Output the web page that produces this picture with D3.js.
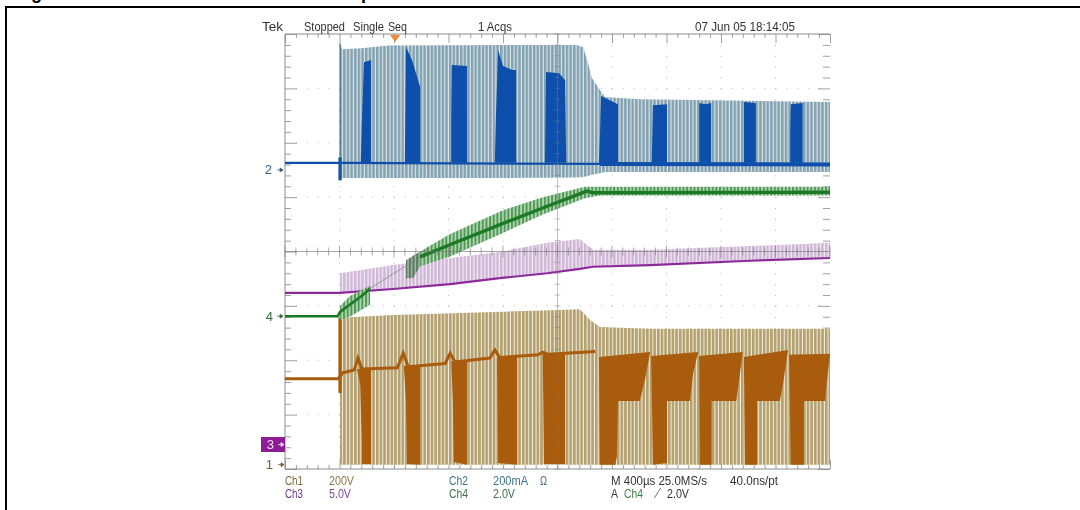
<!DOCTYPE html>
<html><head><meta charset="utf-8">
<script src="https://cdn.jsdelivr.net/npm/d3@7"></script>
<style>html,body{margin:0;padding:0;background:#fff;overflow:hidden}svg{display:block}text{font-family:"Liberation Sans Narrow","Liberation Sans",sans-serif;font-size:12.5px}</style>
</head><body>
<script>
// Values in oscilloscope divisions: time 0..10, level -4..4.
const ch2Times=[1.01,1.05,1.40,1.90,4.00,5.35,5.47,5.56,5.63,5.78,5.87,6.51,10];
const ch2High=[3.83,3.72,3.74,3.79,3.80,3.80,3.76,3.46,3.19,2.97,2.84,2.80,2.75];
const ch2Low=[1.35,1.35,1.35,1.35,1.35,1.36,1.37,1.39,1.41,1.44,1.46,1.46,1.46];
const ch2BaseTimes=[0,1.01,5.78,10];
const ch2BaseLevels=[1.63,1.63,1.61,1.60];
const ch2EdgeTimes=[1.01,1.01];
const ch2EdgeLevels=[3.83,1.31];
const ch2Blocks=[
[[0.98,1.73],[1.04,1.73],[1.04,1.31],[0.98,1.31]],
[[1.39,1.63],[1.41,2.36],[1.45,3.48],[1.58,3.52],[1.58,1.63]],
[[2.20,1.63],[2.22,3.76],[2.33,3.52],[2.48,3.02],[2.48,1.63]],
[[3.05,1.63],[3.05,2.47],[3.06,3.43],[3.34,3.41],[3.34,1.63]],
[[3.85,1.63],[3.87,2.47],[3.91,3.70],[4.00,3.41],[4.17,3.34],[4.24,3.34],[4.24,1.63]],
[[4.77,1.63],[4.79,3.30],[5.03,3.28],[5.14,3.15],[5.16,1.63]],
[[5.76,1.63],[5.78,2.16],[5.80,2.86],[5.96,2.78],[6.11,2.71],[6.11,1.63]],
[[6.73,1.63],[6.75,2.69],[7.01,2.71],[7.01,1.63]],
[[7.60,1.63],[7.60,2.73],[7.71,2.71],[7.82,2.73],[7.82,1.63]],
[[8.42,1.63],[8.42,2.75],[8.64,2.73],[8.64,1.63]],
[[9.27,1.63],[9.27,2.23],[9.28,2.71],[9.50,2.73],[9.50,1.63]]];
const ch1Times=[1.01,1.98,4.86,5.41,5.60,5.78,6.70,10];
const ch1High=[-1.22,-1.17,-1.08,-1.06,-1.26,-1.39,-1.42,-1.42];
const ch1Low=[-3.92,-3.92,-3.92,-3.92,-3.92,-3.92,-3.92,-3.92];
const ch1TraceTimes=[0,0.97,1.01,1.06,1.27,1.34,1.41,2.06,2.17,2.26,2.94,3.03,3.12,3.76,3.85,3.94,4.64,4.73,4.83,5.69];
const ch1TraceLevels=[-2.34,-2.34,-2.30,-2.23,-2.18,-1.96,-2.16,-2.14,-1.87,-2.12,-2.06,-1.87,-2.03,-1.96,-1.81,-1.95,-1.90,-1.85,-1.89,-1.84];
const ch1Blocks=[
[[0.98,-1.22],[1.04,-1.22],[1.04,-2.60],[0.98,-2.60]],
[[1.32,-2.16],[1.58,-2.16],[1.58,-3.91],[1.41,-3.91],[1.41,-3.47],[1.38,-2.45]],
[[2.18,-2.10],[2.48,-2.10],[2.48,-3.92],[2.24,-3.91],[2.22,-2.73]],
[[3.05,-2.02],[3.34,-2.00],[3.34,-3.92],[3.10,-3.87],[3.08,-2.73]],
[[3.89,-1.95],[4.26,-1.92],[4.26,-3.92],[3.91,-3.89]],
[[4.73,-1.88],[5.14,-1.88],[5.14,-3.91],[4.75,-3.91]],
[[5.76,-1.94],[6.70,-1.85],[6.61,-2.33],[6.51,-2.75],[6.11,-2.75],[6.09,-3.78],[6.06,-3.92],[5.78,-3.92]],
[[6.72,-1.92],[7.58,-1.85],[7.49,-2.23],[7.43,-2.75],[7.01,-2.75],[7.01,-3.89],[6.75,-3.92]],
[[7.60,-1.92],[8.40,-1.85],[8.35,-2.23],[8.28,-2.75],[7.83,-2.75],[7.83,-3.92],[7.61,-3.92]],
[[8.42,-1.94],[9.23,-1.81],[9.14,-2.42],[9.08,-2.75],[8.66,-2.75],[8.66,-3.92],[8.44,-3.92]],
[[9.25,-1.90],[10,-1.88],[9.94,-2.42],[9.91,-2.75],[9.52,-2.75],[9.52,-3.92],[9.28,-3.92]]];
const ch3Times=[1.01,1.98,3.03,3.94,4.81,5.41,5.65,6.70,8.53,10];
const ch3High=[-0.40,-0.25,-0.12,-0.01,0.16,0.23,0.03,0.03,0.10,0.16];
const ch3Low=[-0.76,-0.69,-0.60,-0.49,-0.40,-0.32,-0.28,-0.25,-0.17,-0.12];
const ch3BaseTimes=[0,1.01,1.98,3.03,3.94,4.81,5.41,5.65,6.70,8.53,10];
const ch3BaseLevels=[-0.76,-0.76,-0.69,-0.60,-0.49,-0.40,-0.32,-0.28,-0.25,-0.17,-0.12];
const ch4EarlyTimes=[1.01,1.19,1.56];
const ch4EarlyHigh=[-1.00,-0.82,-0.63];
const ch4EarlyLow=[-1.26,-1.20,-0.98];
const ch4Times=[2.48,3.03,4.00,4.73,5.50,5.78,10];
const ch4High=[0.00,0.32,0.76,1.00,1.19,1.19,1.19];
const ch4Low=[-0.27,-0.09,0.34,0.68,0.98,1.03,1.03];
const ch4GrayTimes=[2.22,2.35,2.48];
const ch4GrayHigh=[-0.16,-0.08,0.00];
const ch4GrayLow=[-0.49,-0.49,-0.27];
const ch4BaseTimes=[0,0.97,1.01,1.43,1.56];
const ch4BaseLevels=[-1.19,-1.19,-1.11,-0.80,-0.68];
const ch4FaintTimes=[1.56,2.48];
const ch4FaintLevels=[-0.68,-0.10];
const ch4TraceTimes=[2.48,3.14,4.06,4.86,5.54,5.65,10];
const ch4TraceLevels=[-0.10,0.17,0.54,0.85,1.11,1.08,1.09];

const svg=d3.select("body").append("svg").attr("width",1080).attr("height",510);
const x=d3.scaleLinear().domain([0,10]).range([285,830]);
const y=d3.scaleLinear().domain([-4,4]).range([469,34]);
const defs=svg.append("defs");
defs.append("filter").attr("id","soft").attr("filterUnits","userSpaceOnUse").attr("x",0).attr("y",0).attr("width",1080).attr("height",510)
  .append("feGaussianBlur").attr("stdDeviation",0.35);
function stripes(id,bg,fg,w){
  const p=defs.append("pattern").attr("id",id).attr("patternUnits","userSpaceOnUse").attr("width",3.65).attr("height",8);
  p.append("rect").attr("width",3.65).attr("height",8).attr("fill",bg);
  p.append("rect").attr("width",w).attr("height",8).attr("fill",fg);
}
stripes("s2","#dbe5e9","#83a2b1",2.5);
stripes("s1","#f3eddb","#b3a06f",2.6);
stripes("s3","#f3ecf4","#cfb6d6",2.4);
stripes("s4","#b9d8b9","#4f9a55",2.0);
stripes("s4g","#a8b8a8","#5c7a64",2.2);

// page frame and the clipped heading
svg.append("path").attr("d","M6 510V7H1080").attr("fill","none").attr("stroke","#000").attr("stroke-width",2);
const headGlyphs=[["g",31],["p",361]];
svg.selectAll(".hd").data(headGlyphs).join("text").attr("class","hd").attr("x",d=>d[1]).attr("y",-1).attr("fill","#000")
  .text(d=>d[0]).style("font","bold 18px 'Liberation Sans'");

const root=svg.append("g").attr("filter","url(#soft)");
// graticule
const grid=root.append("g");
const vMajor=d3.range(1,10), hMajor=d3.range(-3,4).filter(d=>d!==0);
grid.selectAll(".gv").data(vMajor.filter(d=>d!==5)).join("line").attr("class","gv").attr("x1",d=>x(d)).attr("x2",d=>x(d)).attr("y1",y(4)).attr("y2",y(-4))
  .attr("stroke","#b5b5b5").attr("stroke-dasharray","1 9.88");
grid.selectAll(".gh").data(hMajor).join("line").attr("class","gh").attr("x1",x(0)).attr("x2",x(10)).attr("y1",d=>y(d)).attr("y2",d=>y(d))
  .attr("stroke","#b5b5b5").attr("stroke-dasharray","1 9.9");
const minorT=d3.range(0,51).map(d=>d/5), minorV=d3.range(-20,21).map(d=>d/5);
const isMajor=d=>Math.abs(d-Math.round(d))<1e-6;
function edge(axisGen,tx,ty,vals,len){
  const g=root.append("g").attr("transform",`translate(${tx},${ty})`)
    .call(axisGen.tickValues(vals).tickSize(len).tickFormat(""));
  g.select(".domain").remove();
  g.selectAll("line").attr("stroke","#a0a0a0");
  return g;
}
edge(d3.axisRight(y),285,0,minorV.filter(d=>!isMajor(d)),6);
edge(d3.axisRight(y),285,0,minorV.filter(isMajor),12);
edge(d3.axisLeft(y),830,0,minorV.filter(d=>!isMajor(d)),7);
edge(d3.axisLeft(y),830,0,minorV.filter(isMajor),12);
edge(d3.axisBottom(x),0,34,minorT.filter(d=>!isMajor(d)),4);
edge(d3.axisBottom(x),0,34,minorT.filter(isMajor),9);
edge(d3.axisTop(x),0,469,minorT.filter(d=>!isMajor(d)),4);
edge(d3.axisTop(x),0,469,minorT.filter(isMajor),9);
const frameLines=[[[0,-4],[0,4]],[[0,4],[10,4]],[[0,-4],[10,-4]]];
const ln=d3.line().x(d=>x(d[0])).y(d=>y(d[1]));
root.selectAll(".fr").data(frameLines).join("path").attr("class","fr").attr("d",ln).attr("fill","none").attr("stroke","#8c8c8c");

const zip=(t,a)=>t.map((d,i)=>[d,a[i]]);
const band=(t,h,l)=>t.map((d,i)=>({t:d,h:h[i],l:l[i]}));
const area=d3.area().x(d=>x(d.t)).y0(d=>y(d.l)).y1(d=>y(d.h));
const poly=d=>ln(d)+"Z";
function drawBand(t,h,l,id){root.append("path").attr("d",area(band(t,h,l))).attr("fill",`url(#${id})`);}
function drawLine(t,v,col,w,dash){root.append("path").attr("d",ln(zip(t,v))).attr("fill","none").attr("stroke",col).attr("stroke-width",w).attr("stroke-dasharray",dash||null);}
function drawBlocks(b,col){root.append("g").selectAll("path").data(b).join("path").attr("d",poly).attr("fill",col);}

// Ch3
drawBand(ch3Times,ch3High,ch3Low,"s3");
drawLine(ch3BaseTimes,ch3BaseLevels,"#8b2c98",2.2);
// Ch1
drawBand(ch1Times,ch1High,ch1Low,"s1");
drawBlocks(ch1Blocks,"#a95b0a");
drawLine(ch1TraceTimes,ch1TraceLevels,"#a95b0a",3);
// Ch2
drawBand(ch2Times,ch2High,ch2Low,"s2");
drawBlocks(ch2Blocks,"#0d50aa");
drawLine(ch2EdgeTimes,ch2EdgeLevels,"#2f6272",1);
drawLine(ch2BaseTimes.slice(0,3),ch2BaseLevels.slice(0,3),"#0d50aa",2.2);
drawLine(ch2BaseTimes.slice(2),ch2BaseLevels.slice(2),"#0d50aa",4);
// Ch4
drawBand(ch4EarlyTimes,ch4EarlyHigh,ch4EarlyLow,"s4");
drawBand(ch4GrayTimes,ch4GrayHigh,ch4GrayLow,"s4g");
drawBand(ch4Times,ch4High,ch4Low,"s4");
drawLine(ch4FaintTimes,ch4FaintLevels,"#6d7f70",1,"2 1");
drawLine(ch4BaseTimes,ch4BaseLevels,"#1b7a25",2.6);
drawLine(ch4TraceTimes,ch4TraceLevels,"#1b7a25",3.4);

// crosshair over the traces
const cross=root.append("g");
cross.append("line").attr("x1",x(0)).attr("x2",x(10)).attr("y1",y(0)).attr("y2",y(0)).attr("stroke","#777").attr("stroke-opacity",.65);
cross.append("line").attr("x1",x(5)).attr("x2",x(5)).attr("y1",y(4)).attr("y2",y(-4)).attr("stroke","#777").attr("stroke-opacity",.45);
cross.selectAll(".th").data(minorT).join("line").attr("class","th").attr("x1",d=>x(d)).attr("x2",d=>x(d)).attr("y1",d=>y(0)-(isMajor(d)?6:4)).attr("y2",d=>y(0)+(isMajor(d)?6:4)).attr("stroke","#777").attr("stroke-opacity",.6);
cross.selectAll(".tv").data(minorV).join("line").attr("class","tv").attr("y1",d=>y(d)).attr("y2",d=>y(d)).attr("x1",x(5)-3).attr("x2",x(5)+3).attr("stroke","#777").attr("stroke-opacity",.45);

// trigger position marker
const trigT=[2.02];
root.selectAll(".trig").data(trigT).join("path").attr("class","trig").attr("transform",d=>`translate(${x(d)},${y(4)+1})`).attr("d","M-5 0H5L0 7Z").attr("fill","#ef8a3c");

// ground reference markers
root.append("rect").attr("x",261).attr("y",437).attr("width",24).attr("height",15).attr("fill","#8e1f96");
const markers=[{s:"2",v:1.50,c:"#3f5f78",tx:272,ax:277},{s:"4",v:-1.19,c:"#2f6f3a",tx:273,ax:277},{s:"3",v:-3.55,c:"#f1dff2",tx:274,ax:278},{s:"1",v:-3.92,c:"#7a5f30",tx:273,ax:278}];
const mk=root.append("g");
mk.selectAll("text").data(markers).join("text").attr("x",d=>d.tx).attr("y",d=>y(d.v)+4.5).attr("text-anchor","end").attr("fill",d=>d.c).style("font-size","13px").text(d=>d.s);
mk.selectAll("path").data(markers).join("path").attr("transform",d=>`translate(${d.ax},${y(d.v)})`)
  .attr("d","M0 0H6M3 -2L6 0L3 2Z").attr("stroke",d=>d.c).attr("fill",d=>d.c).attr("stroke-width",.8);

// readouts
const headerLabels=[["Tek",262,31,"#333",21],["Stopped",304,31,"#333",41],["Single",353,31,"#333",31],["Seq",388,31,"#333",19],["1 Acqs",478,31,"#333",34],["07 Jun 05 18:14:05",695,31,"#333",100]];
const footerLabels=[["Ch1",285,485,"#7a6a3e",18],["200V",329,485,"#8a7a46",25],["Ch3",285,498,"#6c3a82",18],["5.0V",329,498,"#7c4a90",22],
["Ch2",449,485,"#3d7386",19],["200mA",493,485,"#3d7386",35],["Ω",540,485,"#3d7386",7],["Ch4",449,498,"#3e6e4c",19],["2.0V",493,498,"#3e6e4c",22],
["M 400µs 25.0MS/s",611,485,"#333",96],["40.0ns/pt",730,485,"#333",48],["A",611,498,"#333",7],["Ch4",624,498,"#3e7e4c",19],["⟋",654,498,"#333",7],["2.0V",667,498,"#333",22]];
root.selectAll(".lab").data(headerLabels.concat(footerLabels)).join("text").attr("class","lab")
  .attr("x",d=>d[1]).attr("y",d=>d[2]).attr("fill",d=>d[3]).attr("textLength",d=>d[4]).attr("lengthAdjust","spacingAndGlyphs").text(d=>d[0]);
</script>
</body></html>
